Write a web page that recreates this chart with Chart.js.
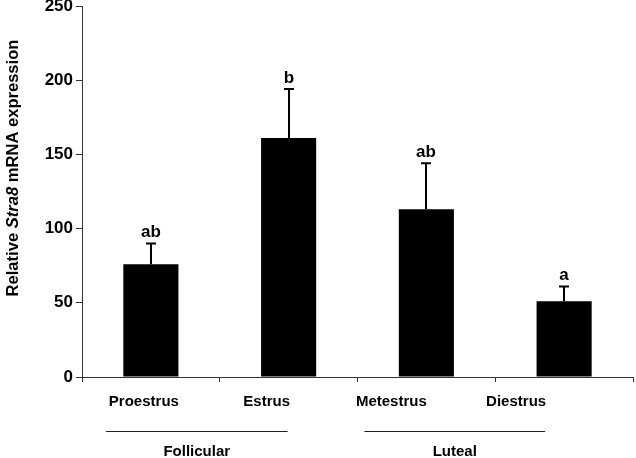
<!DOCTYPE html>
<html lang="en">
<head>
<meta charset="UTF-8">
<title>Stra8 expression</title>
<script src="https://cdn.jsdelivr.net/npm/chart.js"></script>
<style>
  html, body { margin: 0; padding: 0; background: #fff; }
  #wrap { width: 636px; height: 458px; }
</style>
</head>
<body>
<div id="wrap"><canvas id="chart"></canvas></div>
<script>
const stages = ['Proestrus', 'Estrus', 'Metestrus', 'Diestrus'];
const means = [76, 161, 113, 51];
const errTops = [90, 194, 144, 61];
const sigLetters = ['ab', 'b', 'ab', 'a'];
const phases = ['Follicular', 'Luteal'];
const yTicks = [0, 50, 100, 150, 200, 250];

const FONT = '"Liberation Sans", Arial, sans-serif';

// labels in the original sit left of their bars, drifting more to the right
const labelShift = [-7, -22, -35, -48];

const annotate = {
  id: 'annotate',
  afterDatasetsDraw(chart) {
    const ctx = chart.ctx;
    const x = chart.scales.x, y = chart.scales.y;
    ctx.save();
    ctx.strokeStyle = '#000';
    ctx.fillStyle = '#000';
    ctx.lineWidth = 2;
    means.forEach((m, i) => {
      const cx = Math.round(x.getPixelForValue(i));
      const y0 = y.getPixelForValue(m);
      const y1 = y.getPixelForValue(errTops[i]);
      ctx.beginPath();
      ctx.moveTo(cx, y0);
      ctx.lineTo(cx, y1);
      ctx.moveTo(cx - 5, y1);
      ctx.lineTo(cx + 5, y1);
      ctx.stroke();
      ctx.font = 'bold 17px ' + FONT;
      ctx.textAlign = 'center';
      ctx.textBaseline = 'alphabetic';
      ctx.fillText(sigLetters[i], cx, y1 - 6);
    });

    // category labels
    const base = y.getPixelForValue(0);
    ctx.font = 'bold 15px ' + FONT;
    ctx.textAlign = 'center';
    ctx.textBaseline = 'middle';
    stages.forEach((s, i) => {
      ctx.fillText(s, x.getPixelForValue(i) + labelShift[i], base + 25);
    });

    // phase brackets
    ctx.lineWidth = 1.2;
    ctx.strokeStyle = '#222';
    const groups = [[0, 1], [2, 3]];
    groups.forEach((g, k) => {
      const xa = k === 0 ? x.getPixelForValue(g[0]) - 45 : x.getPixelForValue(g[0]) - 62;
      const xb = k === 0 ? x.getPixelForValue(g[1]) - 1 : x.getPixelForValue(g[1]) - 19;
      ctx.beginPath();
      ctx.moveTo(xa, base + 54.5);
      ctx.lineTo(xb, base + 54.5);
      ctx.stroke();
      ctx.fillText(phases[k], (xa + xb) / 2, base + 75);
    });

    // y axis title with italic gene name, sized to span ~257px
    const mk = (sz) => [
      ['Relative ', 'bold ' + sz + 'px ' + FONT],
      ['Stra8', 'italic bold ' + sz + 'px ' + FONT],
      [' mRNA expression', 'bold ' + sz + 'px ' + FONT]
    ];
    const measure = (parts) => parts.reduce((t, p) => { ctx.font = p[1]; return t + ctx.measureText(p[0]).width; }, 0);
    const size = 16 * 257 / measure(mk(16));
    const parts = mk(size.toFixed(2));
    const total = measure(parts);
    ctx.translate(18, 168);
    ctx.rotate(-Math.PI / 2);
    ctx.textAlign = 'left';
    ctx.textBaseline = 'alphabetic';
    let pos = -total / 2;
    parts.forEach(p => {
      ctx.font = p[1];
      ctx.fillText(p[0], pos, 0);
      pos += ctx.measureText(p[0]).width;
    });
    ctx.restore();
  }
};

new Chart(document.getElementById('chart'), {
  type: 'bar',
  data: {
    labels: stages,
    datasets: [{
      data: means,
      backgroundColor: '#000',
      borderWidth: 0,
      categoryPercentage: 1,
      barPercentage: 0.4
    }]
  },
  options: {
    responsive: true,
    maintainAspectRatio: false,
    animation: false,
    layout: { padding: { top: 6, right: 3, left: 0, bottom: 0 } },
    plugins: { legend: { display: false }, tooltip: { enabled: false } },
    scales: {
      x: {
        grid: { drawOnChartArea: false, drawTicks: true, tickLength: 5, color: '#333', offset: true },
        border: { color: '#333', width: 1 },
        ticks: { display: false },
        afterFit(s) { s.height = 81; s.paddingLeft = 0; s.paddingRight = 0; }
      },
      y: {
        min: 0,
        max: 250,
        afterBuildTicks(s) { s.ticks = yTicks.map(v => ({ value: v })); },
        grid: { drawOnChartArea: false, drawTicks: true, tickLength: 6, color: '#333' },
        border: { color: '#333', width: 1 },
        ticks: { color: '#000', font: { family: FONT, size: 17, weight: 'bold' }, padding: 3 },
        afterFit(s) { s.width = 82; s.paddingTop = 0; s.paddingBottom = 0; }
      }
    }
  },
  plugins: [annotate]
});
</script>
</body>
</html>
